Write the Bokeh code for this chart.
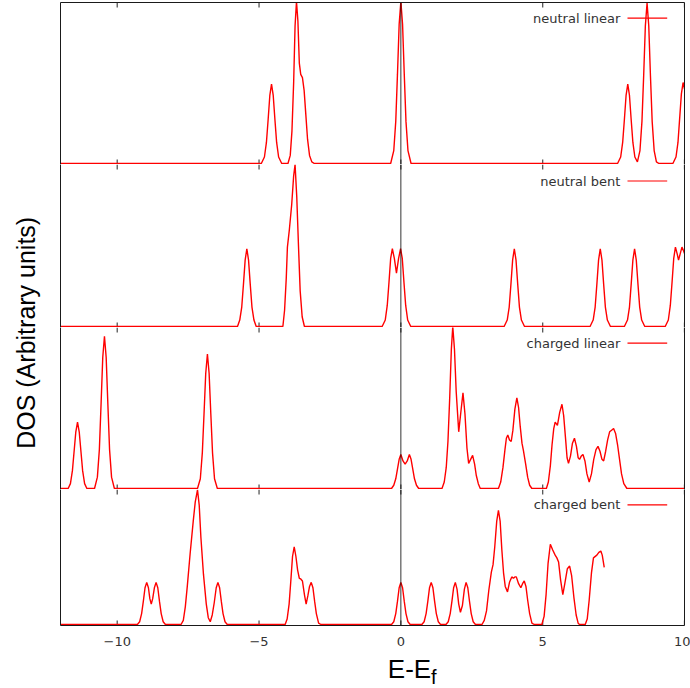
from bokeh.plotting import figure
from bokeh.layouts import column, row
from bokeh.models import Range1d, LinearAxis, FixedTicker, Span, Label
from bokeh.embed import file_html
from bokeh.resources import INLINE

# ---------------- data ----------------
x_ticks = [-10, -5, 0, 5, 10]
series_names = ["neutral linear", "neutral bent", "charged linear", "charged bent"]

neutral_linear = [
    (-12.0, 0), (-4.92, 0), (-4.81, 0.04), (-4.74, 0.13), (-4.68, 0.27), (-4.62, 0.42), (-4.56, 0.49),
    (-4.50, 0.42), (-4.44, 0.27), (-4.38, 0.13), (-4.31, 0.04), (-4.20, 0),
    (-3.98, 0), (-3.90, 0.05), (-3.84, 0.20), (-3.78, 0.50), (-3.73, 0.85), (-3.68, 1.0), (-3.63, 0.88),
    (-3.58, 0.62), (-3.53, 0.55), (-3.47, 0.53), (-3.41, 0.45), (-3.35, 0.30), (-3.29, 0.15), (-3.22, 0.05),
    (-3.14, 0.01), (-3.05, 0),
    (-0.36, 0), (-0.25, 0.08), (-0.18, 0.26), (-0.12, 0.55), (-0.06, 0.86), (0.0, 1.0), (0.06, 0.86),
    (0.12, 0.55), (0.18, 0.26), (0.25, 0.08), (0.36, 0),
    (7.64, 0), (7.75, 0.04), (7.82, 0.13), (7.88, 0.27), (7.94, 0.42), (8.0, 0.49), (8.06, 0.42),
    (8.12, 0.27), (8.18, 0.13), (8.25, 0.04), (8.34, 0.01),
    (8.43, 0.08), (8.50, 0.26), (8.56, 0.54), (8.62, 0.85), (8.68, 0.99), (8.74, 0.85), (8.80, 0.54),
    (8.86, 0.26), (8.93, 0.08), (9.01, 0.01), (9.10, 0),
    (9.59, 0), (9.70, 0.04), (9.77, 0.13), (9.83, 0.28), (9.89, 0.43), (9.95, 0.50), (10.0, 0.46),
]

neutral_bent = [
    (-12.0, 0), (-5.76, 0), (-5.68, 0.04), (-5.61, 0.12), (-5.55, 0.26), (-5.49, 0.41), (-5.43, 0.48),
    (-5.37, 0.41), (-5.31, 0.26), (-5.25, 0.12), (-5.18, 0.04), (-5.10, 0),
    (-4.16, 0), (-4.10, 0.10), (-4.04, 0.30), (-4.00, 0.49), (-3.93, 0.60), (-3.85, 0.75), (-3.78, 0.93),
    (-3.73, 1.0), (-3.67, 0.80), (-3.61, 0.50), (-3.55, 0.22), (-3.48, 0.06), (-3.40, 0),
    (-0.66, 0), (-0.55, 0.04), (-0.48, 0.13), (-0.42, 0.27), (-0.36, 0.42), (-0.30, 0.48), (-0.23, 0.42),
    (-0.155, 0.33), (-0.08, 0.42), (-0.01, 0.48), (0.05, 0.42), (0.11, 0.27), (0.17, 0.13), (0.24, 0.04),
    (0.35, 0),
    (3.64, 0), (3.75, 0.04), (3.82, 0.12), (3.88, 0.26), (3.94, 0.41), (4.0, 0.48), (4.06, 0.41),
    (4.12, 0.26), (4.18, 0.12), (4.25, 0.04), (4.36, 0),
    (6.67, 0), (6.78, 0.04), (6.85, 0.12), (6.91, 0.26), (6.97, 0.41), (7.03, 0.48), (7.09, 0.41),
    (7.15, 0.26), (7.21, 0.12), (7.28, 0.04), (7.39, 0),
    (7.88, 0), (7.99, 0.04), (8.06, 0.12), (8.12, 0.26), (8.18, 0.41), (8.24, 0.48), (8.30, 0.41),
    (8.36, 0.26), (8.42, 0.12), (8.49, 0.04), (8.60, 0),
    (9.32, 0), (9.43, 0.04), (9.50, 0.13), (9.56, 0.27), (9.62, 0.42), (9.68, 0.49), (9.74, 0.45),
    (9.79, 0.41), (9.85, 0.45), (9.91, 0.49), (9.96, 0.47), (10.0, 0.45),
]

charged_linear = [
    (-12.0, 0), (-11.73, 0), (-11.65, 0.03), (-11.58, 0.11), (-11.52, 0.23), (-11.46, 0.35), (-11.40, 0.41),
    (-11.34, 0.35), (-11.28, 0.23), (-11.22, 0.11), (-11.15, 0.03), (-11.07, 0),
    (-10.80, 0), (-10.70, 0.07), (-10.63, 0.24), (-10.57, 0.52), (-10.51, 0.81), (-10.45, 0.94),
    (-10.39, 0.81), (-10.33, 0.52), (-10.27, 0.24), (-10.20, 0.07), (-10.10, 0),
    (-7.17, 0), (-7.07, 0.06), (-7.00, 0.22), (-6.94, 0.46), (-6.88, 0.71), (-6.82, 0.83), (-6.76, 0.71),
    (-6.70, 0.46), (-6.64, 0.22), (-6.57, 0.06), (-6.47, 0),
    (-0.33, 0), (-0.25, 0.02), (-0.18, 0.06), (-0.12, 0.12), (-0.06, 0.18), (0.0, 0.21), (0.075, 0.17),
    (0.15, 0.15), (0.225, 0.17), (0.30, 0.21), (0.36, 0.18), (0.42, 0.12), (0.48, 0.06), (0.55, 0.02),
    (0.63, 0),
    (1.45, 0), (1.53, 0.04), (1.60, 0.13), (1.66, 0.29), (1.72, 0.55), (1.78, 0.86), (1.83, 1.0),
    (1.89, 0.86), (1.95, 0.60), (2.04, 0.35), (2.12, 0.48), (2.19, 0.59), (2.26, 0.46), (2.33, 0.25),
    (2.39, 0.155), (2.46, 0.18), (2.53, 0.205), (2.60, 0.15), (2.66, 0.08), (2.73, 0.03), (2.80, 0),
    (3.44, 0), (3.52, 0.04), (3.60, 0.13), (3.67, 0.24), (3.72, 0.31), (3.77, 0.33), (3.83, 0.30),
    (3.89, 0.29), (3.95, 0.36), (4.02, 0.49), (4.09, 0.56), (4.15, 0.50), (4.21, 0.38), (4.27, 0.28),
    (4.32, 0.235), (4.40, 0.15), (4.47, 0.07), (4.54, 0.02), (4.62, 0),
    (5.13, 0), (5.20, 0.04), (5.27, 0.14), (5.33, 0.27), (5.39, 0.37), (5.44, 0.41), (5.52, 0.39),
    (5.60, 0.47), (5.68, 0.52), (5.74, 0.45), (5.81, 0.30), (5.86, 0.19), (5.91, 0.155), (5.98, 0.20),
    (6.05, 0.28), (6.12, 0.31), (6.19, 0.26), (6.25, 0.19), (6.30, 0.18), (6.36, 0.20), (6.42, 0.21),
    (6.49, 0.17), (6.56, 0.09), (6.64, 0.04), (6.72, 0.09), (6.80, 0.18), (6.88, 0.24), (6.95, 0.26),
    (7.02, 0.23), (7.09, 0.18), (7.15, 0.17), (7.22, 0.23), (7.29, 0.30), (7.36, 0.35), (7.43, 0.36),
    (7.50, 0.37), (7.57, 0.34), (7.64, 0.27), (7.71, 0.18), (7.78, 0.09), (7.86, 0.03), (7.97, 0),
    (10.0, 0),
]

charged_bent = [
    (-12.0, 0), (-9.29, 0), (-9.21, 0.02), (-9.14, 0.08), (-9.08, 0.17), (-9.02, 0.27), (-8.96, 0.31),
    (-8.90, 0.27), (-8.85, 0.19), (-8.80, 0.15), (-8.75, 0.19), (-8.69, 0.27), (-8.63, 0.31),
    (-8.57, 0.27), (-8.51, 0.17), (-8.45, 0.08), (-8.38, 0.02), (-8.30, 0),
    (-7.75, 0), (-7.67, 0.03), (-7.60, 0.13), (-7.53, 0.28), (-7.43, 0.52), (-7.32, 0.76), (-7.25, 0.90),
    (-7.17, 0.99), (-7.11, 0.88), (-7.05, 0.64), (-6.96, 0.37), (-6.86, 0.15), (-6.79, 0.05),
    (-6.72, 0.02), (-6.65, 0.07), (-6.58, 0.16), (-6.51, 0.27), (-6.45, 0.31), (-6.39, 0.27),
    (-6.33, 0.17), (-6.27, 0.08), (-6.20, 0.02), (-6.12, 0),
    (-4.08, 0), (-4.01, 0.04), (-3.94, 0.15), (-3.88, 0.32), (-3.82, 0.50), (-3.76, 0.57), (-3.70, 0.50),
    (-3.64, 0.40), (-3.58, 0.34), (-3.53, 0.335), (-3.47, 0.32), (-3.40, 0.22), (-3.34, 0.15),
    (-3.28, 0.21), (-3.22, 0.28), (-3.16, 0.31), (-3.10, 0.27), (-3.04, 0.17), (-2.98, 0.08),
    (-2.90, 0.01), (-2.82, 0),
    (-0.33, 0), (-0.25, 0.02), (-0.18, 0.08), (-0.12, 0.17), (-0.06, 0.27), (0.0, 0.31), (0.06, 0.27),
    (0.12, 0.17), (0.18, 0.08), (0.25, 0.02), (0.33, 0),
    (0.74, 0), (0.82, 0.02), (0.89, 0.08), (0.95, 0.17), (1.01, 0.27), (1.07, 0.31), (1.13, 0.27),
    (1.19, 0.17), (1.25, 0.08), (1.32, 0.02), (1.40, 0),
    (1.59, 0), (1.67, 0.02), (1.74, 0.08), (1.80, 0.17), (1.86, 0.27), (1.92, 0.31), (1.98, 0.26),
    (2.04, 0.15), (2.10, 0.09), (2.17, 0.14), (2.24, 0.26), (2.30, 0.31), (2.36, 0.27), (2.42, 0.17),
    (2.48, 0.08), (2.55, 0.02), (2.63, 0),
    (2.86, 0), (2.94, 0.03), (3.02, 0.10), (3.10, 0.25), (3.19, 0.385), (3.25, 0.44), (3.31, 0.57),
    (3.38, 0.76), (3.44, 0.84), (3.50, 0.76), (3.56, 0.55), (3.62, 0.38), (3.68, 0.28), (3.76, 0.24),
    (3.83, 0.31), (3.91, 0.35), (3.97, 0.34), (4.02, 0.35), (4.07, 0.35), (4.15, 0.30), (4.23, 0.27),
    (4.29, 0.30), (4.35, 0.32), (4.41, 0.28), (4.47, 0.18), (4.54, 0.08), (4.62, 0.01), (4.70, 0),
    (4.97, 0), (5.05, 0.06), (5.12, 0.22), (5.19, 0.45), (5.27, 0.59), (5.35, 0.55), (5.44, 0.51),
    (5.50, 0.49), (5.56, 0.46), (5.63, 0.33), (5.71, 0.22), (5.78, 0.30), (5.87, 0.41), (5.95, 0.43),
    (6.02, 0.36), (6.10, 0.20), (6.18, 0.07), (6.25, 0.01), (6.30, 0), (6.50, 0), (6.57, 0.04),
    (6.64, 0.18), (6.72, 0.38), (6.79, 0.49), (6.91, 0.51), (6.98, 0.53), (7.05, 0.54), (7.10, 0.51),
    (7.17, 0.42),
]

all_series = [neutral_linear, neutral_bent, charged_linear, charged_bent]

# ---------------- styling / layout ----------------
RED = "#ff0000"
FRAME = "#1a1a1a"
TICK = "#555555"
TXT = "#333333"
TICK_PX = 5

frame_px = [162, 163, 162, 136]            # frame heights
unit_px = [162, 162, 162, 136]             # pixels per unit of DOS
top_border = [2, 0, 0, 0]
bottom_border = [0, 0, 0, 30]
legend_y = [0.897, 0.898, 0.897, 0.880]


def edge_axis(line_color, ticks):
    return LinearAxis(ticker=FixedTicker(ticks=ticks), axis_line_color=line_color,
                      axis_line_width=1, major_tick_in=0, major_tick_out=0,
                      minor_tick_line_color=None, major_tick_line_color=None,
                      major_label_text_font_size="0px",
                      major_label_text_color=None, major_label_standoff=0)


xr = Range1d(-12, 10)
panels = []
for i, (name, data) in enumerate(zip(series_names, all_series)):
    last = i == 3
    y0 = -1.0 / unit_px[i]
    y1 = y0 + frame_px[i] / unit_px[i]
    p = figure(frame_width=624, frame_height=frame_px[i], x_range=xr, y_range=Range1d(y0, y1),
               x_axis_type=None, y_axis_type=None, output_backend="svg",
               toolbar_location=None, min_border_left=0, min_border_right=6,
               min_border_top=top_border[i], min_border_bottom=bottom_border[i],
               outline_line_color=None,
               background_fill_color="white", border_fill_color="white")
    p.add_layout(edge_axis(FRAME if i == 0 else None, []), "above")
    bottom = edge_axis(FRAME, x_ticks if last else [])
    if last:
        bottom.major_label_text_font = "DejaVu Sans"
        bottom.major_label_text_font_size = "13px"
        bottom.major_label_text_color = TXT
        bottom.major_label_standoff = 11
    p.add_layout(bottom, "below")
    p.add_layout(edge_axis(FRAME, []), "left")
    p.add_layout(edge_axis(FRAME, []), "right")

    # inward tick marks on the top and bottom edges of every panel
    tick_len = TICK_PX / unit_px[i]
    n = len(x_ticks)
    p.segment(x0=x_ticks, y0=[y0] * n, x1=x_ticks, y1=[y0 + tick_len] * n,
              line_color=TICK, line_width=1.3)
    p.segment(x0=x_ticks, y0=[y1 - tick_len] * n, x1=x_ticks, y1=[y1] * n,
              line_color=TICK, line_width=1.3)

    p.add_layout(Span(location=0, dimension="height", line_color="#111111",
                      line_width=1, line_alpha=0.85))
    xs = [d[0] for d in data]
    ys = [d[1] for d in data]
    p.line(xs, ys, line_color=RED, line_width=1.4)

    # key: text on the left, line sample on the right (as in the reference)
    p.add_layout(Label(x=7.74, y=legend_y[i], text=name, text_align="right",
                       text_baseline="middle", text_font="DejaVu Sans",
                       text_font_size="13px", text_color=TXT))
    p.segment(x0=[7.99], y0=[legend_y[i]], x1=[9.39], y1=[legend_y[i]],
              line_color=RED, line_width=1.2)
    panels.append(p)

# x-axis title strip (shares the x range so the text sits under the axis)
xlab = figure(frame_width=624, frame_height=33, x_range=xr, y_range=Range1d(0, 1),
              x_axis_type=None, y_axis_type=None, output_backend="svg",
              toolbar_location=None, min_border_left=0, min_border_right=6,
              min_border_top=0, min_border_bottom=0, outline_line_color=None,
              background_fill_color="white", border_fill_color="white")
xlab.add_layout(Label(x=-0.46, y=0.60, text="E-E", text_align="left",
                      text_baseline="alphabetic", text_font="Liberation Sans",
                      text_font_size="26px", text_color="black"))
xlab.add_layout(Label(x=1.06, y=0.36, text="f", text_align="left",
                      text_baseline="alphabetic", text_font="Liberation Sans",
                      text_font_size="20px", text_color="black"))

label_fig = figure(width=60, height=688, x_range=Range1d(0, 1),
                   y_range=Range1d(0, 1), x_axis_type=None, y_axis_type=None,
                   output_backend="svg", toolbar_location=None, min_border=0,
                   outline_line_color=None, background_fill_color="white",
                   border_fill_color="white")
label_fig.add_layout(Label(x=0.42, y=0.517, text="DOS (Arbitrary units)", angle=90,
                           angle_units="deg", text_align="center", text_baseline="middle",
                           text_font="Liberation Sans", text_font_size="25px",
                           text_color="black"))

layout = row(label_fig, column(*panels, xlab, spacing=0), spacing=0)
open("out.html", "w").write(file_html(layout, INLINE))
